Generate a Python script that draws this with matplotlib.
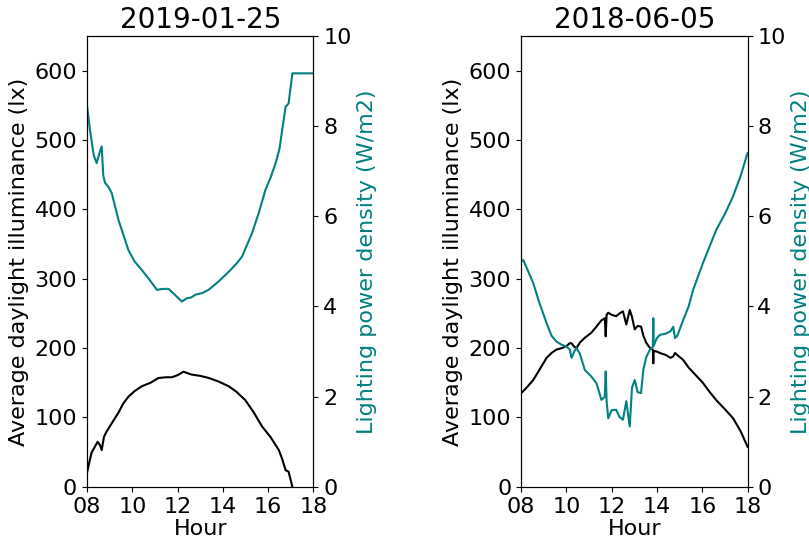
import matplotlib
matplotlib.use('Agg')
from matplotlib import pyplot as plt

# 2019-01-25
hour_w = [8.0, 8.13, 8.3, 8.43, 8.55, 8.65, 8.72, 8.8, 8.95, 9.09, 9.25, 9.39, 9.6, 9.83,
          10.1, 10.42, 10.75, 11.09, 11.35, 11.6, 11.9, 12.19, 12.4, 12.6, 12.78, 13.1,
          13.37, 13.8, 14.26, 14.6, 14.85, 15.29, 15.6, 15.88, 16.1, 16.33, 16.5, 16.62,
          16.77, 16.9, 17.07, 17.5, 18.0]
lpd_w = [8.47, 7.92, 7.35, 7.18, 7.4, 7.55, 6.9, 6.74, 6.65, 6.52, 6.2, 5.92, 5.6, 5.25,
         5.0, 4.81, 4.6, 4.37, 4.39, 4.39, 4.25, 4.11, 4.18, 4.2, 4.26, 4.3, 4.37, 4.55,
         4.77, 4.95, 5.11, 5.63, 6.1, 6.59, 6.85, 7.18, 7.5, 7.92, 8.43, 8.5, 9.17, 9.17, 9.17]
hour_w_lux = [8.0, 8.1, 8.2, 8.35, 8.47, 8.58, 8.65, 8.75, 8.87, 9.1, 9.39, 9.6, 9.83, 10.1,
              10.42, 10.8, 11.16, 11.5, 11.75, 12.0, 12.26, 12.6, 13.0, 13.37, 13.8, 14.26,
              14.6, 14.99, 15.35, 15.73, 16.1, 16.47, 16.62, 16.77, 16.9, 17.07]
lux_w = [20, 35, 49, 58, 65, 60, 53, 72, 80, 92, 107, 120, 130, 138, 145, 150, 157, 158,
         158, 161, 166, 162, 160, 157, 152, 145, 137, 125, 108, 87, 72, 53, 40, 24, 22, 0]

# 2018-06-05
hour_s = [8.0, 8.1, 8.3, 8.54, 8.8, 9.13, 9.35, 9.57, 9.8, 10.01, 10.15, 10.23, 10.35, 10.45,
          10.6, 10.82, 11.1, 11.33, 11.45, 11.55, 11.7, 11.74, 11.78, 11.85, 12.0, 12.2,
          12.35, 12.5, 12.65, 12.8, 12.9, 13.02, 13.15, 13.3, 13.4, 13.54, 13.7, 13.82,
          13.84, 13.86, 14.0, 14.13, 14.4, 14.6, 14.72, 14.8, 14.9, 15.16, 15.4, 15.6,
          16.03, 16.3, 16.62, 17.0, 17.36, 17.7, 18.0]
lpd_s = [5.0, 5.03, 4.8, 4.52, 4.1, 3.63, 3.35, 3.22, 3.15, 3.11, 3.05, 2.86, 3.0, 3.08,
         2.95, 2.59, 2.45, 2.3, 2.1, 1.93, 2.0, 2.56, 1.9, 1.52, 1.7, 1.71, 1.55, 1.49,
         1.9, 1.34, 2.2, 2.37, 2.1, 2.08, 2.6, 2.89, 3.05, 3.1, 3.74, 3.13, 3.3, 3.37,
         3.4, 3.45, 3.55, 3.3, 3.35, 3.7, 4.0, 4.37, 4.96, 5.3, 5.7, 6.05, 6.44, 6.9, 7.4]
lux_s = [135, 138, 145, 154, 168, 186, 193, 198, 200, 203, 207, 207, 202, 200, 208, 215,
         222, 231, 236, 240, 243, 217, 248, 251, 248, 246, 250, 253, 234, 255, 245, 227,
         232, 231, 218, 207, 200, 198, 178, 196, 195, 193, 190, 186, 188, 193, 190, 183,
         172, 165, 150, 138, 125, 112, 99, 80, 58]

panels = [('2019-01-25', hour_w_lux, lux_w, hour_w, lpd_w),
          ('2018-06-05', hour_s, lux_s, hour_s, lpd_s)]
lefts = [0.1075, 0.644]

fig = plt.figure(figsize=(8.09, 5.44), dpi=100)
for i in range(2):
    title, hx, lux, hp, lpd = panels[i]
    ax = fig.add_axes([lefts[i], 0.105, 0.28, 0.829])
    ax.plot(hx, lux, color='black', lw=1.5)
    ax.set_xlim(8, 18)
    ax.set_ylim(0, 650)
    ax.set_xticks([8, 10, 12, 14, 16, 18])
    ax.set_xticklabels(['08', '10', '12', '14', '16', '18'])
    ax.set_yticks([0, 100, 200, 300, 400, 500, 600])
    ax.tick_params(labelsize=16)
    ax.set_xlabel('Hour', fontsize=16, labelpad=2)
    ax.set_ylabel('Average daylight illuminance (lx)', fontsize=16)
    ax.set_title(title, fontsize=20)
    ax2 = ax.twinx()
    ax2.plot(hp, lpd, color='teal', lw=1.5)
    ax2.set_ylim(0, 10)
    ax2.set_yticks([0, 2, 4, 6, 8, 10])
    ax2.tick_params(labelsize=16)
    ax2.set_ylabel('Lighting power density (W/m2)', color='teal', fontsize=16)

fig.savefig('out.png', dpi=100)
